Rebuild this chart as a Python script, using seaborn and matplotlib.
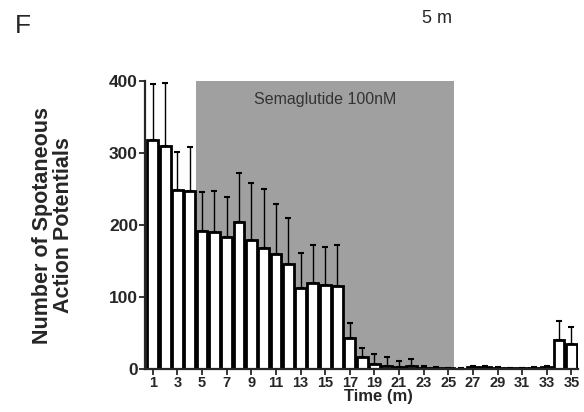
import numpy as np
import pandas as pd
import matplotlib
matplotlib.use("Agg")
import matplotlib.pyplot as plt
import seaborn as sns

# ------------------------------------------
# Data
# ------------------------------------------
minutes = list(range(1, 36))
mean_ap = [318, 310, 249, 247, 192, 191, 183, 205, 180, 168,
           160, 146, 113, 120, 117, 116, 43, 17, 7, 4,
           3, 4, 1, 1, 1, 0, 3, 3, 2, 1,
           1, 2, 3, 40, 35]
err_top = [396, 398, 302, 309, 246, 248, 239, 272, 258, 250,
           230, 210, 162, 172, 170, 172, 64, 30, 21, 17,
           12, 14, 5, 3, 2, 1, 5, 5, 3, 2,
           2, 3, 4, 67, 58]
sem = [t - m for t, m in zip(err_top, mean_ap)]
drug_start, drug_end = 4.5, 25.5   # minutes, edges of the shaded window
drug_label = "Semaglutide 100nM"

df = pd.DataFrame({"Time": minutes, "AP": mean_ap})

# ------------------------------------------
# Plot
# ------------------------------------------
sns.set_style("ticks")
plt.rcParams["font.family"] = ["Liberation Sans", "DejaVu Sans"]

fig = plt.figure(figsize=(5.84, 4.12), dpi=100)
ax = fig.add_axes([0.248, 0.104, 0.742, 0.699])

# shaded drug window (category index = minute - 1)
ax.axvspan(drug_start - 1, drug_end - 1, color="#a0a0a0", zorder=0, lw=0)
ax.text((drug_start + drug_end) / 2 - 1, 375, drug_label, ha="center", va="center",
        fontsize=11.5, color="#333333")

sns.barplot(data=df, x="Time", y="AP", color="white", edgecolor="black",
            linewidth=2.0, width=0.88, errorbar=None, ax=ax, zorder=2)

ax.errorbar(np.arange(len(minutes)), mean_ap, yerr=[np.zeros(len(sem)), sem],
            fmt="none", ecolor="black", elinewidth=1.0, capsize=2.5, capthick=1.5,
            zorder=1, clip_on=False)

ax.set_ylim(0, 400)
ax.set_xlim(-0.65, len(minutes) - 0.45)
ax.set_yticks([0, 100, 200, 300, 400])
ax.set_xticks(np.arange(0, len(minutes), 2))
ax.set_xticklabels([str(m) for m in minutes[::2]])
ax.tick_params(axis="both", width=1.3, length=4, pad=1)
ax.tick_params(axis="x", labelsize=10.5)
ax.tick_params(axis="y", labelsize=12.5)
for lab in ax.get_xticklabels() + ax.get_yticklabels():
    lab.set_fontweight("bold")

ax.set_xlabel("Time (m)", fontsize=12, fontweight="bold")
ax.xaxis.set_label_coords(0.54, -0.068)
ax.xaxis.label.set_va("top")
ax.set_ylabel("Number of Spotaneous\nAction Potentials", fontsize=15.5,
              fontweight="bold", linespacing=1.0)
ax.yaxis.set_label_coords(-0.163, 0.5)

sns.despine(ax=ax)
ax.spines["left"].set_linewidth(1.6)
ax.spines["bottom"].set_linewidth(1.6)

fig.text(0.026, 0.92, "F", fontsize=19)
fig.text(0.722, 0.945, "5 m", fontsize=13)

fig.savefig("out.png", dpi=100)
